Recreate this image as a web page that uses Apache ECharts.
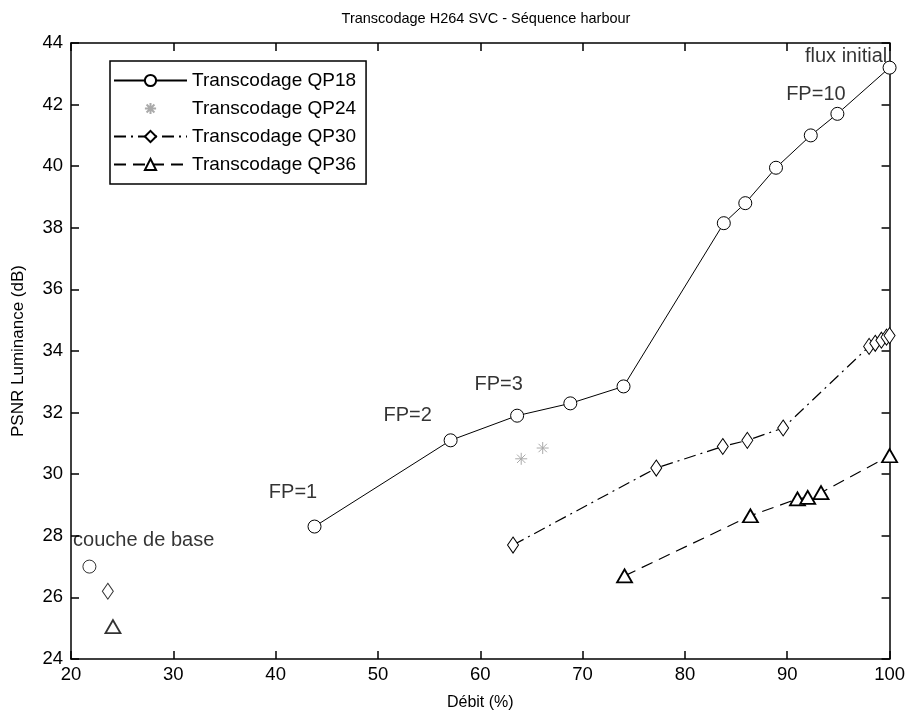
<!DOCTYPE html>
<html><head><meta charset="utf-8">
<script src="https://cdn.jsdelivr.net/npm/echarts@6/dist/echarts.min.js"></script>
<style>html,body{margin:0;padding:0;background:#fff}#c{width:908px;height:716px}</style>
</head><body><div id="c"></div>
<script>
const FONT = "'Liberation Sans',Arial,sans-serif";
const title = 'Transcodage H264 SVC - Séquence harbour';
const xName = 'Débit (%)';
const yName = 'PSNR Luminance (dB)';
const seriesNames = ['Transcodage QP18', 'Transcodage QP24', 'Transcodage QP30', 'Transcodage QP36'];

const qp18X = [43.8, 57.1, 63.6, 68.8, 74.0, 83.8, 85.9, 88.9, 92.3, 94.9, 100];
const qp18Y = [28.3, 31.1, 31.9, 32.3, 32.85, 38.15, 38.8, 39.95, 41.0, 41.7, 43.2];
const qp24X = [64.0, 66.1];
const qp24Y = [30.5, 30.85];
const qp30X = [63.2, 77.2, 83.7, 86.1, 89.6, 98.0, 98.6, 99.2, 99.7, 100];
const qp30Y = [27.7, 30.2, 30.9, 31.1, 31.5, 34.15, 34.25, 34.35, 34.45, 34.5];
const qp36X = [74.1, 86.4, 91.0, 92.0, 93.3, 100];
const qp36Y = [26.7, 28.65, 29.2, 29.25, 29.4, 30.6];
// base layer points (not connected)
const baseX = [21.8, 23.6, 24.1];
const baseY = [27.0, 26.2, 25.05];

const annTexts = ['couche de base', 'FP=1', 'FP=2', 'FP=3', 'FP=10', 'flux initial'];
const annX = [27.1, 41.7, 52.9, 61.8, 92.8, 95.75];
const annY = [27.86, 29.42, 31.9, 32.9, 42.33, 43.56];

const xTicks = {min: 20, max: 100, interval: 10};
const yTicks = {min: 24, max: 44, interval: 2};

const zip = (a, b) => a.map((v, i) => [v, b[i]]);
const starPath = 'path://M0,5L10,5M5,0L5,10M1.5,1.5L8.5,8.5M8.5,1.5L1.5,8.5';

const chart = echarts.init(document.getElementById('c'));
const axisCommon = {
  axisLine: {show: true, onZero: false, lineStyle: {color: '#000', width: 1.5}},
  axisTick: {show: true, inside: true, length: 8, lineStyle: {color: '#000', width: 1.5}},
  splitLine: {show: false}
};
chart.setOption({
  animation: false,
  backgroundColor: '#fff',
  textStyle: {fontFamily: FONT},
  title: {text: title, left: 481, textAlign: 'center', top: 6,
    textStyle: {fontFamily: FONT, fontSize: 14.5, fontWeight: 'normal', color: '#000'}},
  grid: {left: 71, right: 17, top: 43, bottom: 57},
  legend: {
    data: seriesNames, orient: 'vertical', left: 110, top: 61,
    backgroundColor: '#fff', borderColor: '#000', borderWidth: 1.5, borderRadius: 0,
    padding: [10, 10, 10, 3], itemWidth: 73, itemHeight: 14, itemGap: 9,
    textStyle: {fontFamily: FONT, fontSize: 19, color: '#000'}
  },
  xAxis: [
    Object.assign({type: 'value', position: 'bottom', min: xTicks.min, max: xTicks.max, interval: xTicks.interval,
      name: xName, nameLocation: 'middle', nameGap: 36,
      nameTextStyle: {fontFamily: FONT, fontSize: 16, color: '#000'},
      axisLabel: {color: '#000', fontFamily: FONT, fontSize: 18.5, margin: 6}}, axisCommon),
    Object.assign({type: 'value', position: 'top', min: xTicks.min, max: xTicks.max, interval: xTicks.interval,
      axisLabel: {show: false}}, axisCommon)
  ],
  yAxis: [
    Object.assign({type: 'value', position: 'left', min: yTicks.min, max: yTicks.max, interval: yTicks.interval,
      name: yName, nameLocation: 'middle', nameGap: 44, nameRotate: 90,
      nameTextStyle: {fontFamily: FONT, fontSize: 17, color: '#000'},
      axisLabel: {color: '#000', fontFamily: FONT, fontSize: 18.5, margin: 8}}, axisCommon),
    Object.assign({type: 'value', position: 'right', min: yTicks.min, max: yTicks.max, interval: yTicks.interval,
      axisLabel: {show: false}}, axisCommon)
  ],
  series: [
    {name: seriesNames[0], type: 'line', data: zip(qp18X, qp18Y), symbol: 'circle', symbolSize: 13,
      lineStyle: {color: '#000', width: 1}, itemStyle: {color: '#fff', borderColor: '#000', borderWidth: 1}},
    {name: seriesNames[1], type: 'line', data: zip(qp24X, qp24Y), symbol: starPath, symbolSize: 12,
      lineStyle: {color: '#bbb', width: 0, opacity: 0}, itemStyle: {color: '#aaa', borderColor: '#aaa', borderWidth: 1}},
    {name: seriesNames[2], type: 'line', data: zip(qp30X, qp30Y), symbol: 'diamond', symbolSize: [11, 16],
      lineStyle: {color: '#000', width: 1.2, type: [12, 5, 2, 5]}, itemStyle: {color: '#fff', borderColor: '#000', borderWidth: 1}},
    {name: seriesNames[3], type: 'line', data: zip(qp36X, qp36Y), symbol: 'triangle', symbolSize: [15, 13],
      lineStyle: {color: '#000', width: 1.2, type: [12, 7]}, itemStyle: {color: '#fff', borderColor: '#000', borderWidth: 1.8}},
    {type: 'scatter', data: [[baseX[0], baseY[0]]], symbol: 'circle', symbolSize: 13,
      itemStyle: {color: '#fff', borderColor: '#000', borderWidth: 1}},
    {type: 'scatter', data: [[baseX[1], baseY[1]]], symbol: 'diamond', symbolSize: [11, 16],
      itemStyle: {color: '#fff', borderColor: '#000', borderWidth: 1}},
    {type: 'scatter', data: [[baseX[2], baseY[2]]], symbol: 'triangle', symbolSize: [15, 13],
      itemStyle: {color: '#fff', borderColor: '#000', borderWidth: 1.8}},
    {type: 'scatter', symbolSize: 0, silent: true,
      data: annTexts.map((t, i) => ({name: t, value: [annX[i], annY[i]]})),
      label: {show: true, position: 'inside', formatter: p => p.name, color: '#000',
        fontFamily: FONT, fontSize: 20}}
  ]
});
</script></body></html>
